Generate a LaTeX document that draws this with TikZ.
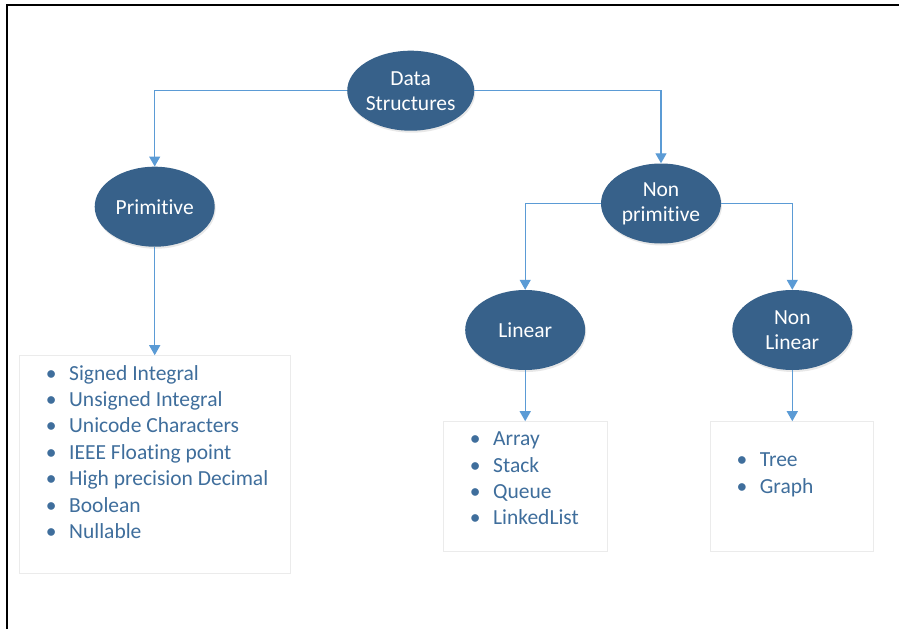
\documentclass[tikz,border=0pt]{standalone}
\usepackage{fontspec}
\setmainfont[Ligatures={NoCommon}]{Carlito}
\usetikzlibrary{shapes.geometric,arrows.meta,shadows}
\definecolor{ellfill}{HTML}{37618A}
\definecolor{conncol}{HTML}{5B9BD5}
\definecolor{itemcol}{HTML}{3F6E9C}
\definecolor{boxline}{HTML}{EBEBEB}
\tikzset{
  ell/.style={ellipse, fill=ellfill, text=white, minimum width=120pt, minimum height=80pt,
    inner sep=0pt, align=center, font=\fontsize{21.5}{25}\selectfont,
    drop shadow={opacity=0.18, shadow xshift=1pt, shadow yshift=-2pt}},
  conn/.style={draw=conncol, line width=1.3pt, -{Triangle[width=11pt,length=10pt]}},
  listbox/.style={draw=boxline, line width=1pt, fill=white, inner sep=0pt},
  itemtxt/.style={anchor=base west, inner sep=0pt, text=itemcol, font=\fontsize{21.5}{26.4}\selectfont},
  frameline/.style={line width=2.8pt, black}
}
\newcommand{\itm}[1]{\makebox[36pt][c]{\textbullet}#1}
\begin{document}
\begin{tikzpicture}[x=1pt,y=-1pt]
\useasboundingbox (0,0) rectangle (899,629);
\fill[white] (0,0) rectangle (899,629);
% frame
\draw[frameline] (7,629) -- (7,5) -- (899,5);
% ellipses
\node[ell] (ds) at (410.7,90.7) {Data\\Structures};
\node[ell] (prim) at (154.7,206.7) {Primitive};
\node[ell] (np) at (661,203.5) {Non\\primitive};
\node[ell] (lin) at (525.2,330) {Linear};
\node[ell] (nl) at (792.3,330) {Non\\Linear};
% boxes
\node[listbox, minimum width=270.7pt, minimum height=217.6pt] (pbox) at (155.3,464.5) {};
\node[listbox, minimum width=163.7pt, minimum height=130pt] (lbox) at (525.2,486.7) {};
\node[listbox, minimum width=163.3pt, minimum height=130pt] (nlbox) at (792.3,486.7) {};
% connectors
\draw[conn] (ds.west) -| (prim.north);
\draw[conn] (ds.east) -| (np.north);
\draw[conn] (np.west) -| (lin.north);
\draw[conn] (np.east) -| (nl.north);
\draw[conn] (prim.south) -- (prim.south |- pbox.north);
\draw[conn] (lin.south) -- (lin.south |- lbox.north);
\draw[conn] (nl.south) -- (nl.south |- nlbox.north);
% items
\node[itemtxt] (p1) at (33,380) {\itm{Signed Integral}};
\node[itemtxt] (p2) at (33,406.4) {\itm{Unsigned Integral}};
\node[itemtxt] (p3) at (33,432.8) {\itm{Unicode Characters}};
\node[itemtxt] (p4) at (33,459.2) {\itm{IEEE Floating point}};
\node[itemtxt] (p5) at (33,485.6) {\itm{High precision Decimal}};
\node[itemtxt] (p6) at (33,512.0) {\itm{Boolean}};
\node[itemtxt] (p7) at (33,538.4) {\itm{Nullable}};
\node[itemtxt] (l1) at (457,445.7) {\itm{Array}};
\node[itemtxt] (l2) at (457,472.1) {\itm{Stack}};
\node[itemtxt] (l3) at (457,498.5) {\itm{Queue}};
\node[itemtxt] (l4) at (457,524.9) {\itm{LinkedList}};
\node[itemtxt] (n1) at (723.7,466.7) {\itm{Tree}};
\node[itemtxt] (n2) at (723.7,493.1) {\itm{Graph}};
\end{tikzpicture}
\end{document}
